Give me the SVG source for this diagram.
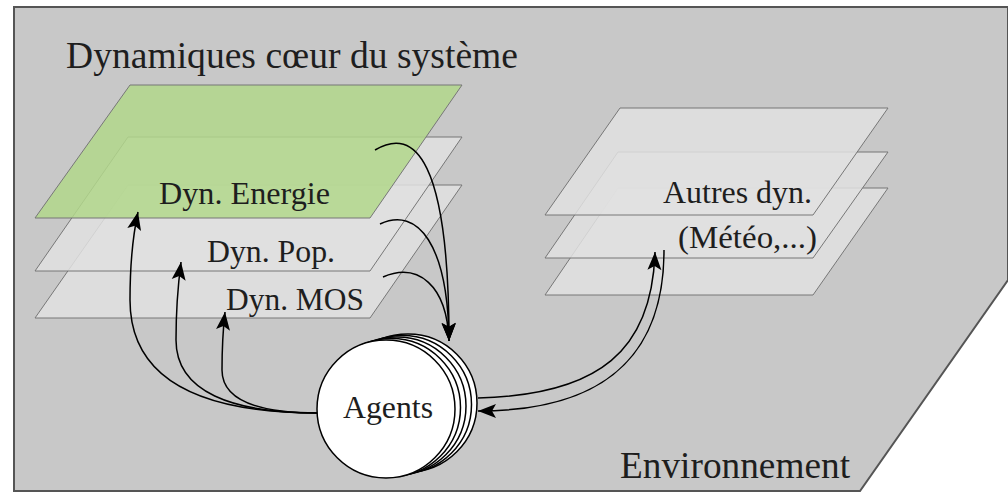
<svg xmlns="http://www.w3.org/2000/svg" width="1008" height="493" viewBox="0 0 1008 493">
<defs>
<marker id="ah" markerUnits="userSpaceOnUse" markerWidth="20" markerHeight="15" refX="18" refY="7" orient="auto" overflow="visible">
<path d="M0,0 L18,7 L0,14 L4,7 z" fill="#000"/>
</marker>
<style>
.lay{fill:#e0e0e0;fill-opacity:0.85;stroke:#777;stroke-width:1}
.green{fill:#b2d78b;fill-opacity:0.85;stroke:#777;stroke-width:1}
.t{font-family:"Liberation Serif","Times New Roman",serif;fill:#1e1e1e}
.c{fill:none;stroke:#000;stroke-width:1.5}
.ag{fill:#fff;stroke:#000;stroke-width:1.5}
</style>
</defs>
<rect width="1008" height="493" fill="#fff"/>
<g id="environnement">
<polygon points="14,7 1008,7 1008,280 860,491 14,491" fill="#c8c8c8" stroke="#555" stroke-width="2"/>
<text class="t" x="620" y="478" font-size="37" textLength="230" lengthAdjust="spacingAndGlyphs">Environnement</text>
</g>
<g id="titre">
<text class="t" x="66" y="68" font-size="37" textLength="452" lengthAdjust="spacingAndGlyphs">Dynamiques cœur du système</text>
</g>
<g id="dyn-mos">
<polygon class="lay" points="128,185 462,185 370,318 35,318"/>
</g>
<g id="dyn-pop">
<polygon class="lay" points="128,137 462,137 370,271 35,271"/>
<text class="t" x="207" y="262" font-size="32" textLength="128" lengthAdjust="spacingAndGlyphs">Dyn. Pop.</text>
</g>
<g id="dyn-energie">
<polygon class="green" points="130,85 462,85 370,218 35,218"/>
<text class="t" x="159" y="204" font-size="32" textLength="171" lengthAdjust="spacingAndGlyphs">Dyn. Energie</text>
</g>
<g id="dyn-mos-label">
<text class="t" x="226" y="310" font-size="32" textLength="138" lengthAdjust="spacingAndGlyphs">Dyn. MOS</text>
</g>
<g id="autres-dyn">
<polygon class="lay" points="618,188 888,188 813,295 545,295"/>
<polygon class="lay" points="618,152 888,152 813,258 545,258"/>
<polygon class="lay" points="620,108 888,108 813,215 545,215"/>
<text class="t" x="663" y="203" font-size="32" textLength="149" lengthAdjust="spacingAndGlyphs">Autres dyn.</text>
<text class="t" x="678" y="248" font-size="32" textLength="139" lengthAdjust="spacingAndGlyphs">(Météo,...)</text>
</g>
<g id="connecteurs">
<path class="c" marker-end="url(#ah)" d="M318,413 C200,413 130,380 130,300 C130,260 133,235 138,212"/>
<path class="c" marker-end="url(#ah)" d="M318,413 C232,413 176,392 176,340 C176,305 178,285 181,262"/>
<path class="c" marker-end="url(#ah)" d="M318,413 C262,413 222,402 222,370 C222,345 223,330 225,312"/>
<path class="c" marker-end="url(#ah)" d="M375,150 C415,126 449,160 449,341"/>
<path class="c" marker-end="url(#ah)" d="M380,224 C418,206 448,245 449,341"/>
<path class="c" marker-end="url(#ah)" d="M383,277 C418,262 447,285 449,341"/>
<path class="c" marker-end="url(#ah)" d="M478,398 C600,395 652,350 655,252"/>
<path class="c" marker-end="url(#ah)" d="M664,250 C664,360 600,411 478,411"/>
</g>
<g id="agents">
<circle class="ag" cx="408" cy="403" r="69"/>
<circle class="ag" cx="402.5" cy="404.5" r="69"/>
<circle class="ag" cx="397" cy="406" r="69"/>
<circle class="ag" cx="391.5" cy="407.5" r="69"/>
<circle class="ag" cx="386" cy="409" r="69"/>
<text class="t" x="343" y="418" font-size="32" textLength="90" lengthAdjust="spacingAndGlyphs">Agents</text>
</g>
</svg>
